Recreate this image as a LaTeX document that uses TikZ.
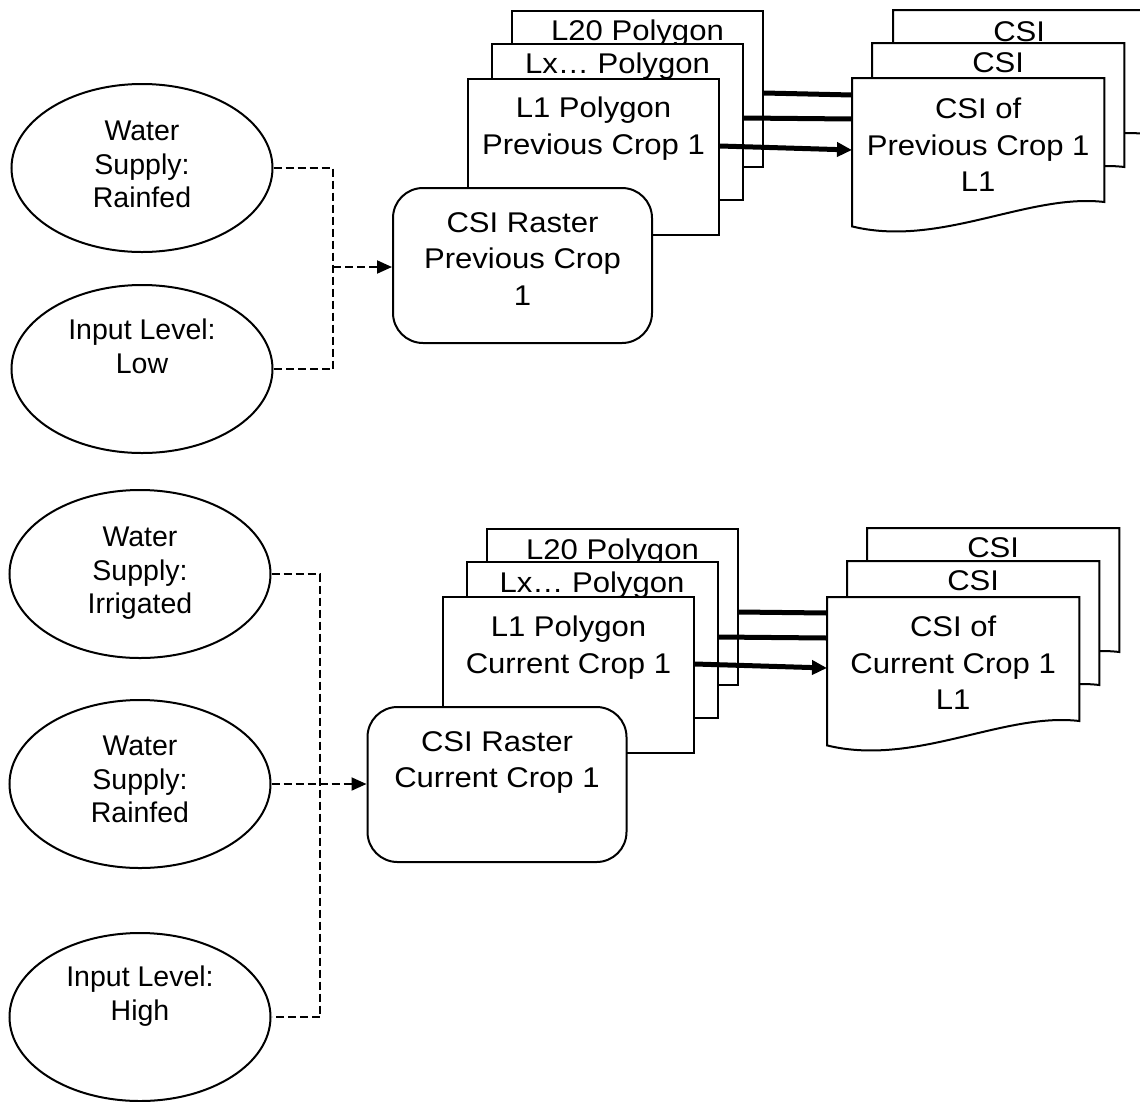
\documentclass[tikz,border=0pt]{standalone}
\usepackage{fontspec}
\setmainfont{Liberation Sans}
\newfontfamily\boxfont{Liberation Sans}[FakeStretch=1.09]
\usetikzlibrary{shapes.geometric,arrows.meta,calc}
\tikzset{
  base/.style={draw=black, line width=2pt, fill=white, inner sep=0pt},
  ell/.style={base, ellipse, minimum width=261pt, minimum height=168pt},
  polybox/.style={base, rectangle, minimum width=251pt, minimum height=156pt},
  rbox/.style={base, rectangle, rounded corners=30pt, minimum width=259pt, minimum height=155pt},
  docnode/.style={rectangle, draw=none, inner sep=0pt, minimum width=252pt, minimum height=148pt, anchor=north west},
  btext/.style={anchor=north, inner sep=0pt, align=center, font=\boxfont\fontsize{28.5}{36.5}\selectfont},
  etext/.style={anchor=north, inner sep=0pt, align=center, font=\fontsize{28.5}{33.5}\selectfont},
  conn/.style={line width=5pt},
  conntip/.style={conn, -{Triangle[length=15pt,width=14pt]}},
  dashconn/.style={line width=2pt, dash pattern=on 8pt off 4pt},
  dashtip/.style={dashconn, -{Triangle[length=15pt,width=13pt]}},
}
\newcommand{\docshape}[1]{%
  \filldraw[fill=white, draw=black, line width=2pt]
    (#1.north west) -- (#1.north east) -- ($(#1.north east)+(0,124)$)
    .. controls ($(#1.north west)+(176,115)$) and ($(#1.north west)+(88,170)$) .. (#1.south west) -- cycle;}
\begin{document}
\begin{tikzpicture}[x=1pt,y=-1pt]
\useasboundingbox (0,0) rectangle (1140,1101);
\fill[white] (0,0) rectangle (1140,1101);
\clip (0,0) rectangle (1140,1101);

% ---------- ellipses ----------
\node[ell] (e1) at (142,168) {};
\node[etext, yshift=-38pt] (e1t) at (e1.north) {Water\\Supply:\\Rainfed};
\node[ell] (e2) at (142,369) {};
\node[etext, yshift=-35pt] (e2t) at (e2.north) {Input Level:\\Low};
\node[ell] (e3) at (140,574) {};
\node[etext, yshift=-38pt] (e3t) at (e3.north) {Water\\Supply:\\Irrigated};
\node[ell] (e4) at (140,784) {};
\node[etext, yshift=-37pt] (e4t) at (e4.north) {Water\\Supply:\\Rainfed};
\node[ell] (e5) at (140,1017) {};
\node[etext, yshift=-34pt] (e5t) at (e5.north) {Input Level:\\High};

% ---------- top polygon stack ----------
\node[polybox] (pa3) at (637.5,89) {};
\node[btext, yshift=-10pt] (pa3t) at (pa3.north) {L20 Polygon};
\node[polybox] (pa2) at (617.5,121.5) {};
\node[btext, yshift=-10pt] (pa2t) at (pa2.north) {Lx… Polygon};
\node[polybox] (pa1) at (593.5,157) {};
\node[btext, yshift=-19pt] (pa1t) at (pa1.north) {L1 Polygon\\Previous Crop 1};
\node[rbox] (ra) at (522.5,265.5) {};
\node[btext, yshift=-25pt] (rat) at (ra.north) {CSI Raster\\Previous Crop\\1};

% ---------- bottom polygon stack ----------
\node[polybox] (pb3) at (612.5,607) {};
\node[btext, yshift=-11pt] (pb3t) at (pb3.north) {L20 Polygon};
\node[polybox] (pb2) at (592,640) {};
\node[btext, yshift=-11pt] (pb2t) at (pb2.north) {Lx… Polygon};
\node[polybox] (pb1) at (568.5,675) {};
\node[btext, yshift=-20pt] (pb1t) at (pb1.north) {L1 Polygon\\Current Crop 1};
\node[rbox] (rb) at (497,784.5) {};
\node[btext, yshift=-25pt] (rbt) at (rb.north) {CSI Raster\\Current Crop 1};

% ---------- top documents ----------
\node[docnode] (da3) at (893,10) {};
\docshape{da3}
\node[btext, yshift=-11pt] (da3t) at (da3.north) {CSI};
\node[docnode] (da2) at (872,43) {};
\docshape{da2}
\node[btext, yshift=-9pt] (da2t) at (da2.north) {CSI};
\node[docnode] (da1) at (852,78) {};
\docshape{da1}
\node[btext, yshift=-20pt] (da1t) at (da1.north) {CSI of\\Previous Crop 1\\L1};

% ---------- bottom documents ----------
\node[docnode] (db3) at (867,528) {};
\docshape{db3}
\node[btext, yshift=-9pt] (db3t) at (db3.north) {CSI};
\node[docnode] (db2) at (847,561) {};
\docshape{db2}
\node[btext, yshift=-9pt] (db2t) at (db2.north) {CSI};
\node[docnode] (db1) at (827,597) {};
\docshape{db1}
\node[btext, yshift=-19pt] (db1t) at (db1.north) {CSI of\\Current Crop 1\\L1};

% ---------- thick connectors ----------
\draw[conn] (pa3.east |- 0,93) -- (da1.west |- 0,95);
\draw[conn] (pa2.east |- 0,118) -- (da1.west |- 0,119);
\draw[conntip] (pa1.east |- 0,146) -- (da1.west |- 0,150);
\draw[conn] (pb3.east |- 0,612) -- (db1.west |- 0,613);
\draw[conn] (pb2.east |- 0,637) -- (db1.west |- 0,638);
\draw[conntip] (pb1.east |- 0,664) -- (db1.west |- 0,668);

% ---------- dashed connectors ----------
\coordinate (ja) at (333,267);
\draw[dashconn] (e1.east) -| (ja) |- (e2.east);
\draw[dashtip] (ja) -- (ra.west |- ja);
\coordinate (jb) at (320,784);
\draw[dashconn] (e3.east) -| (jb) |- (e5.east);
\draw[dashtip] (e4.east) -- (rb.west |- e4.east);
\end{tikzpicture}
\end{document}
